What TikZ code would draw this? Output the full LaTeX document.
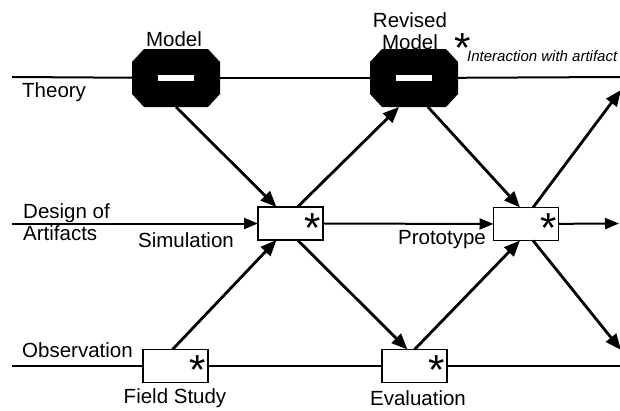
\documentclass[tikz,border=0pt]{standalone}
\usepackage{fontspec}
\setmainfont{Liberation Sans}
\usetikzlibrary{arrows.meta}
\begin{document}
\begin{tikzpicture}[x=1pt,y=-1pt,
  lbl/.style={font=\fontsize{20.5}{22.5}\selectfont, inner sep=0pt},
  note/.style={font=\itshape\fontsize{15}{17}\selectfont, inner sep=0pt},
  % asterisk set on a zero-height box; the node sits on its baseline
  starmark/.style={font=\fontsize{42}{42}\selectfont, inner sep=0pt, anchor=base},
  box/.style={draw, line width=1.7pt, minimum width=65pt, minimum height=33pt, inner sep=0pt, outer sep=0pt},
  oct/.style={minimum width=88pt, minimum height=58pt, inner sep=0pt, outer sep=0pt,
    path picture={
      \fill[black]
        ([xshift=12pt]path picture bounding box.north west) --
        ([xshift=-12pt]path picture bounding box.north east) --
        ([yshift=-13pt]path picture bounding box.north east) --
        ([yshift=13pt]path picture bounding box.south east) --
        ([xshift=-12pt]path picture bounding box.south east) --
        ([xshift=12pt]path picture bounding box.south west) --
        ([yshift=13pt]path picture bounding box.south west) --
        ([yshift=-13pt]path picture bounding box.north west) -- cycle;
      \fill[white] ([xshift=-18pt,yshift=-3pt]path picture bounding box.center)
        rectangle ([xshift=18pt,yshift=3pt]path picture bounding box.center);
    }},
  level/.style={line width=2pt},
  flow/.style={line width=2.8pt, -{Triangle[length=16pt,width=13pt]}},
  hflow/.style={line width=2pt, -{Triangle[length=14pt,width=11pt]}}
]
\useasboundingbox (0,0) rectangle (620,410);

% level end points
\coordinate (thL) at (12,77);
\coordinate (thR) at (620,77);
\coordinate (dzL) at (12,223.5);
\coordinate (dzR) at (619,223.5);
\coordinate (obL) at (12,366);
\coordinate (obR) at (620,366);
\coordinate (trTop) at (621,90);
\coordinate (trBot) at (621,350);

% models on the theory level
\node[oct] (m1) at (176,78) {};
\node[oct] (m2) at (414,78) {};

% activity boxes
\node[box] (sim) at (290.5,223.5) {};
\node[box] (proto) at (526,224) {};
\node[box] (field) at (175.5,366) {};
\node[box] (eval) at (414.5,366) {};

% level lines
\draw[level] (thL) -- (m1);
\draw[level] (m1) -- (m2);
\draw[level] (m2) -- (thR);
\draw[level] (obL) -- (field);
\draw[level] (field) -- (eval);
\draw[level] (eval) -- (obR);
\draw[hflow] (dzL) -- (sim);
\draw[hflow] (sim) -- (proto);
\draw[hflow] (proto) -- (dzR);

% diagonal flows
\draw[flow] (m1.south) -- ([xshift=-14pt]sim.north);
\draw[flow] ([xshift=7pt]sim.north) -- ([xshift=-15pt]m2.south);
\draw[flow] ([xshift=14pt]m2.south) -- ([xshift=-6pt]proto.north);
\draw[flow] ([xshift=7pt]proto.north) -- (trTop);
\draw[flow] ([xshift=-3pt]field.north) -- ([xshift=-14pt]sim.south);
\draw[flow] ([xshift=7pt]sim.south) -- ([xshift=-7pt]eval.north);
\draw[flow] (eval.north) -- ([xshift=-6pt]proto.south);
\draw[flow] ([xshift=7pt]proto.south) -- (trBot);

% stars marking interaction with artifacts
\node[starmark] (s1) at ([xshift=-10pt,yshift=-35pt]sim.north east) {\smash{*}};
\node[starmark] (s2) at ([xshift=-10pt,yshift=-35pt]proto.north east) {\smash{*}};
\node[starmark] (s3) at ([xshift=-10pt,yshift=-35pt]field.north east) {\smash{*}};
\node[starmark] (s4) at ([xshift=-10pt,yshift=-35pt]eval.north east) {\smash{*}};
\node[starmark] (s5) at (463,62) {\smash{*}};

% labels
\node[lbl, anchor=west] (theory) at (22,92) {Theory};
\node[lbl, anchor=west, align=left] (design) at (23,222) {Design of\\Artifacts};
\node[lbl, anchor=west] (obs) at (22,350) {Observation};
\node[lbl] (simlbl) at (186,240) {Simulation};
\node[lbl] (protolbl) at (442,240) {Prototype};
\node[lbl] (fslbl) at (175,398) {Field Study};
\node[lbl] (evlbl) at (418,398) {Evaluation};
\node[lbl] (mlbl) at (174,39) {Model};
\node[lbl, align=center] (rmlbl) at (410,31) {Revised\\Model};
\node[note, anchor=west] (legend) at (467,56) {Interaction with artifact};
\end{tikzpicture}
\end{document}
